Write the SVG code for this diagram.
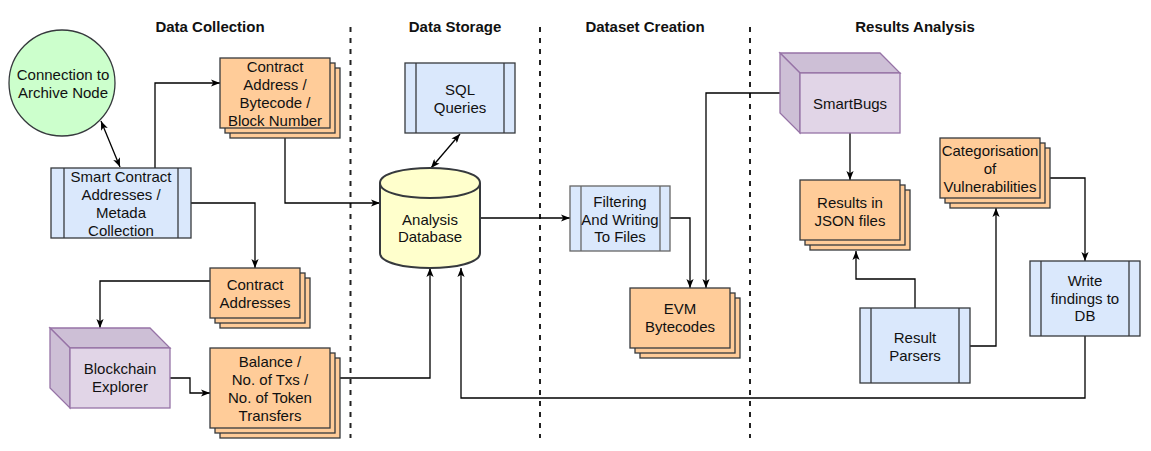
<svg xmlns="http://www.w3.org/2000/svg" width="1151" height="451" viewBox="0 0 1151 451">
<style>
text{font-family:"Liberation Sans",Arial,Helvetica,sans-serif;font-size:15px;fill:#111;text-anchor:middle}
.hd{font-weight:bold}
.proc{fill:#dae8fc;stroke:#36393d;stroke-width:1.3}
.proc2{fill:#dae8fc;stroke:#666;stroke-width:1.3}
.doc{fill:#ffcc99;stroke:#36393d;stroke-width:1.3}
.cubeF{fill:#e1d5e7;stroke:#9673a6;stroke-width:1.3}
.cubeS{fill:#cdbfd6;stroke:#9673a6;stroke-width:1.3}
.ln{fill:none;stroke:#36393d;stroke-width:1.3}
.sep{fill:none;stroke:#222;stroke-width:2;stroke-dasharray:5 6}
.c{fill:none;stroke:#000;stroke-width:1.3}
</style>
<defs>
<marker id="ar" viewBox="0 0 10 8" markerWidth="9" markerHeight="7.2" refX="10" refY="4" orient="auto-start-reverse" markerUnits="userSpaceOnUse">
<path d="M0,0 L10,4 L0,8 L2.5,4 z" fill="#000"/>
</marker>
</defs>
<rect width="1151" height="451" fill="#fff"/>

<g id="headers">
<text class="hd" x="210" y="32">Data Collection</text>
<text class="hd" x="455" y="32">Data Storage</text>
<text class="hd" x="645" y="32">Dataset Creation</text>
<text class="hd" x="915" y="32">Results Analysis</text>
</g>

<g id="separators">
<line class="sep" x1="350.5" y1="27" x2="350.5" y2="438"/>
<line class="sep" x1="540" y1="27" x2="540" y2="438"/>
<line class="sep" x1="750" y1="27" x2="750" y2="438"/>
</g>

<g id="connectors">
<line class="c" x1="101" y1="121" x2="120" y2="167" marker-start="url(#ar)" marker-end="url(#ar)"/>
<path class="c" d="M155,168 V83 H220" marker-end="url(#ar)"/>
<path class="c" d="M285,138 V203 H380" marker-end="url(#ar)"/>
<path class="c" d="M191,203 H255 V268" marker-end="url(#ar)"/>
<path class="c" d="M210,281 H100 V328" marker-end="url(#ar)"/>
<path class="c" d="M170,378 H190 V393 H210" marker-end="url(#ar)"/>
<path class="c" d="M340,378 H430 V268" marker-end="url(#ar)"/>
<line class="c" x1="460" y1="134" x2="431" y2="168" marker-start="url(#ar)" marker-end="url(#ar)"/>
<path class="c" d="M481,218 H570" marker-end="url(#ar)"/>
<path class="c" d="M670,218 H690 V288" marker-end="url(#ar)"/>
<path class="c" d="M780,93 H706 V288" marker-end="url(#ar)"/>
<path class="c" d="M850,133 V180" marker-end="url(#ar)"/>
<path class="c" d="M915,308 V279 H856 V251" marker-end="url(#ar)"/>
<path class="c" d="M970,346 H996 V208" marker-end="url(#ar)"/>
<path class="c" d="M1050,178 H1085 V261" marker-end="url(#ar)"/>
<path class="c" d="M1085,336 V398 H461 V268" marker-end="url(#ar)"/>
</g>

<g id="archive-node">
<circle cx="62" cy="83" r="53" fill="#ccffcc" stroke="#36393d" stroke-width="1.3"/>
<text x="63" y="80">Connection to</text>
<text x="63" y="98">Archive Node</text>
</g>

<g id="sc-collection">
<rect class="proc" x="51" y="168" width="140" height="70"/>
<line class="ln" x1="64" y1="168" x2="64" y2="238"/>
<line class="ln" x1="178" y1="168" x2="178" y2="238"/>
<text x="121" y="182">Smart Contract</text>
<text x="121" y="200">Addresses /</text>
<text x="121" y="218">Metada</text>
<text x="121" y="236">Collection</text>
</g>

<g id="contract-address-bytecode">
<rect class="doc" x="230" y="68" width="110" height="70"/>
<rect class="doc" x="225" y="63" width="110" height="70"/>
<rect class="doc" x="220" y="58" width="110" height="70"/>
<text x="275" y="72">Contract</text>
<text x="275" y="90">Address /</text>
<text x="275" y="108">Bytecode /</text>
<text x="275" y="126">Block Number</text>
</g>

<g id="contract-addresses">
<rect class="doc" x="220" y="278" width="90" height="50"/>
<rect class="doc" x="215" y="273" width="90" height="50"/>
<rect class="doc" x="210" y="268" width="90" height="50"/>
<text x="255" y="290">Contract</text>
<text x="255" y="308">Addresses</text>
</g>

<g id="blockchain-explorer">
<polygon class="cubeS" points="50,328 150,328 170,348 70,348"/>
<polygon class="cubeS" points="50,328 70,348 70,408 50,388"/>
<rect class="cubeF" x="70" y="348" width="100" height="60"/>
<text x="120" y="374">Blockchain</text>
<text x="120" y="392">Explorer</text>
</g>

<g id="balance">
<rect class="doc" x="220" y="358" width="120" height="80"/>
<rect class="doc" x="215" y="353" width="120" height="80"/>
<rect class="doc" x="210" y="348" width="120" height="80"/>
<text x="270" y="367">Balance /</text>
<text x="270" y="385">No. of Txs /</text>
<text x="270" y="403">No. of Token</text>
<text x="270" y="421">Transfers</text>
</g>

<g id="sql-queries">
<rect class="proc" x="405" y="63" width="110" height="70"/>
<line class="ln" x1="416" y1="63" x2="416" y2="133"/>
<line class="ln" x1="504" y1="63" x2="504" y2="133"/>
<text x="460" y="95">SQL</text>
<text x="460" y="113">Queries</text>
</g>

<g id="analysis-db">
<path d="M380,183 C380,163 480,163 480,183 V253 C480,273 380,273 380,253 Z" fill="#ffffcc" stroke="#36393d" stroke-width="2"/>
<path d="M380,183 C380,203 480,203 480,183" fill="none" stroke="#36393d" stroke-width="2"/>
<text x="430" y="225">Analysis</text>
<text x="430" y="242">Database</text>
</g>

<g id="filtering">
<rect class="proc2" x="570" y="186" width="100" height="65"/>
<line class="ln" x1="581" y1="186" x2="581" y2="251" style="stroke:#666"/>
<line class="ln" x1="660" y1="186" x2="660" y2="251" style="stroke:#666"/>
<text x="620" y="207">Filtering</text>
<text x="620" y="225">And Writing</text>
<text x="620" y="242">To Files</text>
</g>

<g id="evm-bytecodes">
<rect class="doc" x="640" y="298" width="100" height="60"/>
<rect class="doc" x="635" y="293" width="100" height="60"/>
<rect class="doc" x="630" y="288" width="100" height="60"/>
<text x="680" y="314">EVM</text>
<text x="680" y="332">Bytecodes</text>
</g>

<g id="smartbugs">
<polygon class="cubeS" points="780,53 880,53 900,73 800,73"/>
<polygon class="cubeS" points="780,53 800,73 800,133 780,113"/>
<rect class="cubeF" x="800" y="73" width="100" height="60"/>
<text x="850" y="109">SmartBugs</text>
</g>

<g id="results-json">
<rect class="doc" x="810" y="190" width="100" height="60"/>
<rect class="doc" x="805" y="185" width="100" height="60"/>
<rect class="doc" x="800" y="180" width="100" height="60"/>
<text x="850" y="208">Results in</text>
<text x="850" y="226">JSON files</text>
</g>

<g id="categorisation">
<rect class="doc" x="950" y="148" width="100" height="60"/>
<rect class="doc" x="945" y="143" width="100" height="60"/>
<rect class="doc" x="940" y="138" width="100" height="60"/>
<text x="990" y="156">Categorisation</text>
<text x="990" y="174">of</text>
<text x="990" y="192">Vulnerabilities</text>
</g>

<g id="result-parsers">
<rect class="proc" x="860" y="308" width="110" height="75"/>
<line class="ln" x1="871" y1="308" x2="871" y2="383"/>
<line class="ln" x1="959" y1="308" x2="959" y2="383"/>
<text x="915" y="343">Result</text>
<text x="915" y="361">Parsers</text>
</g>

<g id="write-findings">
<rect class="proc" x="1030" y="261" width="110" height="75"/>
<line class="ln" x1="1041" y1="261" x2="1041" y2="336"/>
<line class="ln" x1="1129" y1="261" x2="1129" y2="336"/>
<text x="1085" y="286">Write</text>
<text x="1085" y="304">findings to</text>
<text x="1085" y="321">DB</text>
</g>
</svg>
